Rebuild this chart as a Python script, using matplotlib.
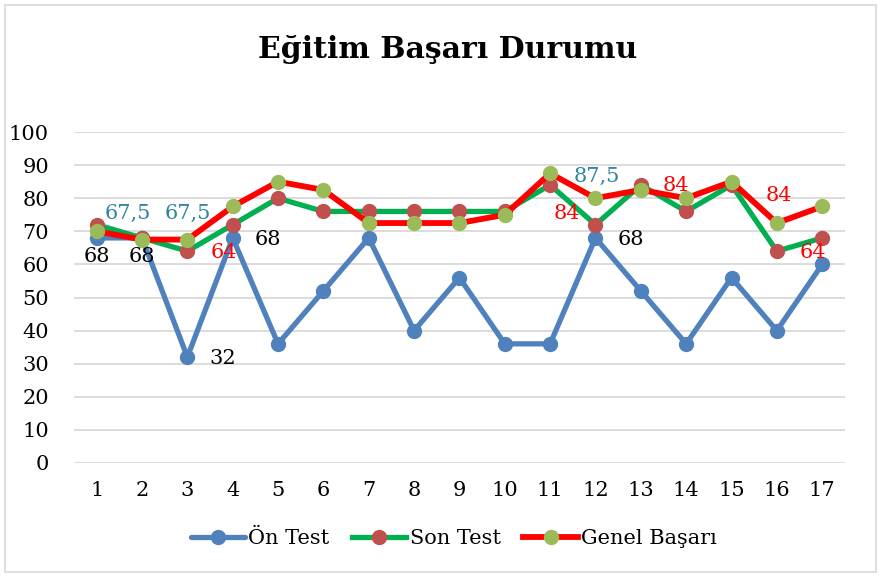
import matplotlib
matplotlib.use("Agg")
import matplotlib.pyplot as plt
from matplotlib.patches import Rectangle

plt.rcParams['font.family'] = ['DejaVu Serif']

ogrenci = list(range(1, 18))
on_test = [68, 68, 32, 68, 36, 52, 68, 40, 56, 36, 36, 68, 52, 36, 56, 40, 60]
son_test = [72, 68, 64, 72, 80, 76, 76, 76, 76, 76, 84, 72, 84, 76, 84, 64, 68]
genel = [70, 67.5, 67.5, 77.5, 85, 82.5, 72.5, 72.5, 72.5, 75, 87.5, 80, 82.5, 80, 85, 72.5, 77.5]

# data labels as they appear in the source chart (x, y, text, colour)
etiket_x = [1, 2, 1.68, 3.0, 3.77, 3.8, 4.77, 12.03, 11.37, 12.78, 13.77, 16.04, 16.8]
etiket_y = [62.5, 62.5, 75.5, 75.5, 31.7, 63.7, 67.4, 86.7, 75.5, 67.4, 83.7, 80.7, 63.7]
etiket_txt = ["68", "68", "67,5", "67,5", "32", "64", "68", "87,5", "84", "68", "84", "84", "64"]
etiket_renk = ["black", "black", "#31859C", "#31859C", "black", "red", "black",
               "#31859C", "red", "black", "red", "red", "red"]

fig = plt.figure(figsize=(8.81, 5.77), dpi=100)
ax = fig.add_axes([0.084, 0.1976, 0.875, 0.5736])

ax.plot(ogrenci, on_test, color="#4F81BD", lw=3.8, marker="o", ms=10,
        mfc="#4F81BD", mec="#4F81BD", label="Ön Test", solid_capstyle="round")
ax.plot(ogrenci, son_test, color="#00B050", lw=3.8, marker="o", ms=10,
        mfc="#C0504D", mec="#C0504D", label="Son Test")
ax.plot(ogrenci, genel, color="#FF0000", lw=4.2, marker="o", ms=10,
        mfc="#9BBB59", mec="#9BBB59", label="Genel Başarı")

for x, y, t, c in zip(etiket_x, etiket_y, etiket_txt, etiket_renk):
    ax.text(x, y, t, color=c, fontsize=15, ha="center", va="center")

ax.set_xlim(0.5, 17.5)
ax.set_ylim(0, 100)
ax.set_yticks(range(0, 101, 10))
ax.set_xticks(ogrenci)
ax.tick_params(axis="both", length=0, labelsize=15)
ax.tick_params(axis="y", pad=18)
ax.tick_params(axis="x", pad=13)
ax.grid(axis="y", color="#D9D9D9", lw=1.3)
ax.set_axisbelow(True)
for s in ax.spines.values():
    s.set_visible(False)

fig.text(0.508, 0.914, "Eğitim Başarı Durumu", ha="center", va="center",
         fontsize=21.5, fontweight="bold")

fig.legend(loc="center", bbox_to_anchor=(0.515, 0.066), ncol=3, frameon=False,
           fontsize=15, handlelength=2.6, columnspacing=1.1, handletextpad=0.15)

fig.add_artist(Rectangle((0.006, 0.008), 0.988, 0.984, transform=fig.transFigure,
                         fill=False, ec="#D9D9D9", lw=1.2))

fig.savefig("out.png", dpi=100)
